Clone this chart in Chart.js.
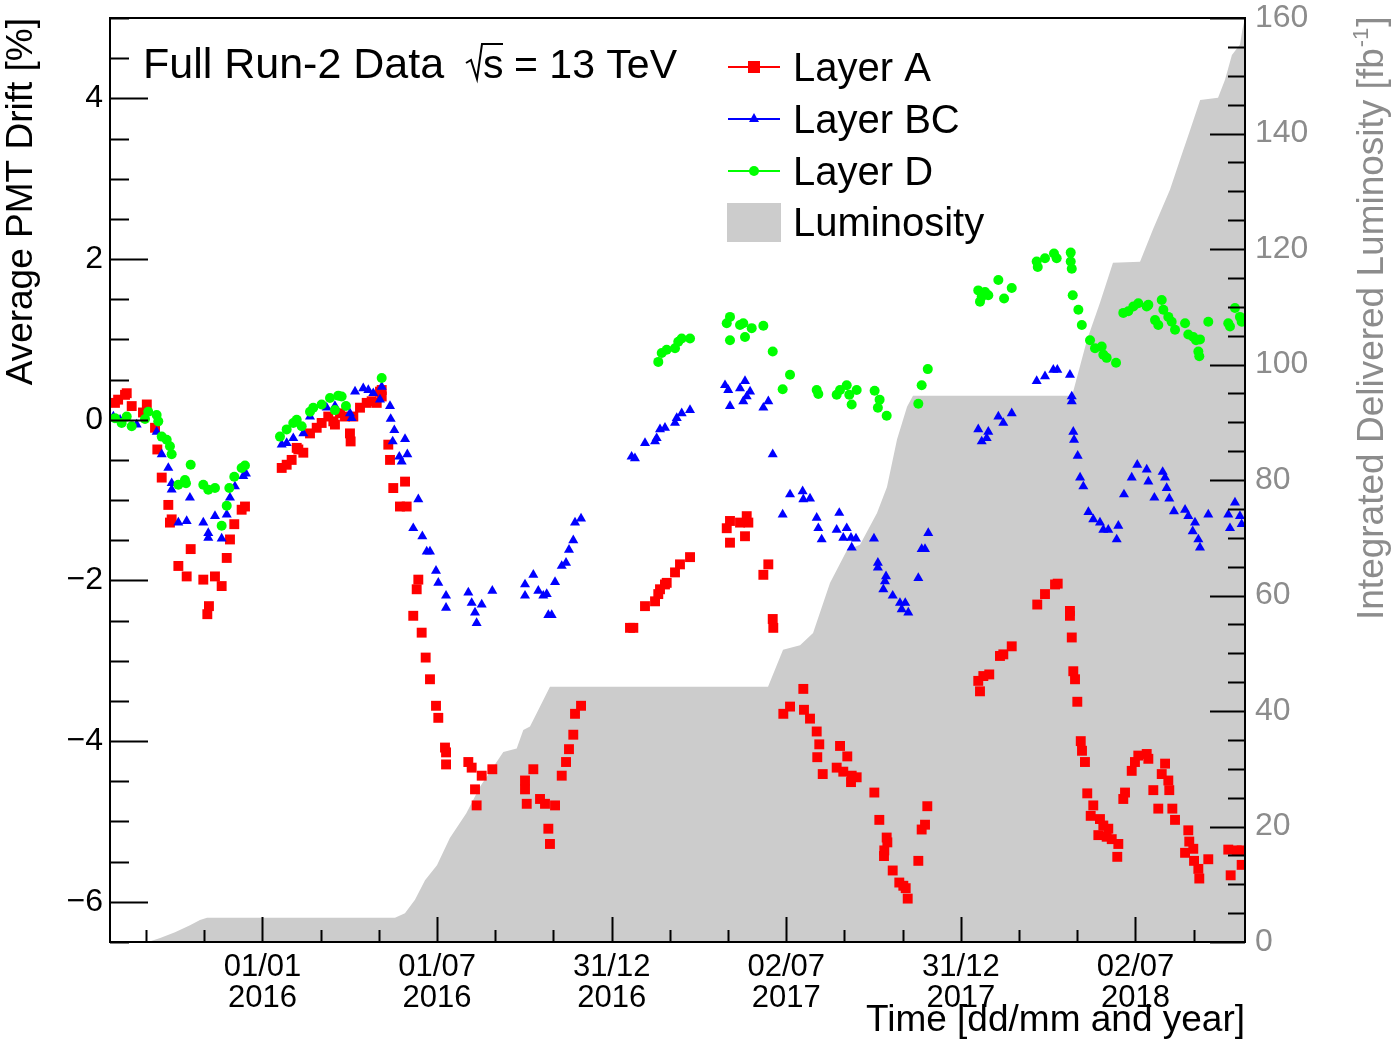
<!DOCTYPE html>
<html><head><meta charset="utf-8">
<script src="https://cdn.jsdelivr.net/npm/chart.js@4/dist/chart.umd.min.js"></script>
<style>html,body{margin:0;padding:0;background:#fff;overflow:hidden}</style>
</head><body>
<canvas id="c" width="1393" height="1043" style="width:1393px;height:1043px;display:block"></canvas>
<script>
// x values: days since 01/01/2016
const xTickDays = [0, 182.625, 365.25, 547.875, 730.5, 913.125];
const xTickLabels = [['01/01','2016'],['01/07','2016'],['31/12','2016'],['02/07','2017'],['31/12','2017'],['02/07','2018']];
const yTicks = [-6, -4, -2, 0, 2, 4];
const y2Ticks = [0, 20, 40, 60, 80, 100, 120, 140, 160];
const seriesNames = ['Layer A', 'Layer BC', 'Layer D', 'Luminosity'];

const layerA = [[-154.3,0.21],[-151,0.25],[-143.8,0.31],[-142,0.33],[-136.8,0.17],[-125,0.09],[-121,0.19],[-112.4,-0.10],[-110,-0.37],[-105.4,-0.72],[-98.5,-1.06],[-96.8,-1.28],[-95,-1.24],[-88,-1.82],[-79.3,-1.95],[-75.1,-1.61],[-61.9,-1.99],[-57.7,-2.42],[-56,-2.32],[-49.7,-1.95],[-42.7,-2.07],[-37.4,-1.72],[-34,-1.49],[-29.5,-1.30],[-21.8,-1.12],[-18.3,-1.08],
[20.1,-0.60],[25.3,-0.56],[30.5,-0.50],[35.8,-0.35],[37.5,-0.37],[42.7,-0.41],[49.7,-0.17],[56.7,-0.10],[61.9,-0.04],[68.8,0.04],[74.1,-0.02],[75.8,-0.06],[81.1,0.08],[86.3,0.04],[91.5,-0.17],[92.2,-0.27],[95,0.04],[102,0.15],[109,0.21],[114.2,0.23],[119.5,0.21],[122.9,0.35],[124.7,0.29],[124.7,0.37],
[131.6,-0.31],[133.4,-0.50],[136.8,-0.85],[143.8,-1.08],[149.1,-0.77],[150.8,-1.08],[157.7,-2.44],[161.3,-2.11],[163,-1.99],[166.5,-2.65],[170.7,-2.96],[175.2,-3.23],[181.5,-3.56],[183.9,-3.71],[190.9,-4.08],[192,-4.14],[192,-4.29],[215.3,-4.26],[218.8,-4.33],[222.3,-4.60],[224,-4.80],[229.3,-4.43],[240.4,-4.35],[274.6,-4.49],[274.6,-4.60],[276.4,-4.78],[283.3,-4.35],[290.3,-4.72],[295.5,-4.78],[299,-5.09],[300.7,-5.28],[306,-4.80],[313,-4.43],[317.5,-4.26],[320.6,-4.10],[325.1,-3.92],[326.9,-3.66],[333.2,-3.56],
[384.4,-2.59],[387.9,-2.59],[400.1,-2.32],[410.6,-2.26],[414,-2.17],[415.8,-2.11],[421,-2.05],[422.8,-2.03],[431.5,-1.90],[436.7,-1.80],[447.2,-1.71],[485.6,-1.35],[489,-1.26],[489,-1.53],[499.5,-1.28],[504.7,-1.45],[506.5,-1.20],[508.2,-1.28],[523.9,-1.93],[529.1,-1.80],[533.7,-2.48],[534.3,-2.59],
[544.8,-3.66],[551.8,-3.57],[565.7,-3.35],[566.4,-3.61],[572.7,-3.72],[579.7,-3.88],[580.3,-4.20],[582.4,-4.04],[586,-4.41],[600.6,-4.33],[604.1,-4.06],[607.5,-4.38],[611.7,-4.19],[615.6,-4.51],[616.3,-4.43],[621.5,-4.45],[640,-4.64],[645.2,-4.98],[650.1,-5.43],[650.4,-5.36],[652.9,-5.20],[653.6,-5.26],[659.2,-5.61],[666.1,-5.76],[670.3,-5.80],[672.8,-5.83],[674.9,-5.96],[686,-5.49],[689.5,-5.10],[693,-5.04],[695.4,-4.81],
[748.7,-3.25],[750.5,-3.38],[754,-3.19],[760.2,-3.17],[771.4,-2.94],[774.9,-2.92],[783.7,-2.82],[810.4,-2.30],[818.5,-2.17],[829,-2.05],[831.8,-2.04],[844.6,-2.38],[844.6,-2.44],[846.5,-2.71],[848.1,-3.13],[849.9,-3.23],[852.3,-3.51],[855.9,-4.00],[857.2,-4.12],[860.3,-4.26],[862.7,-4.65],[866.3,-4.93],[869,-4.80],[874.3,-5.17],[876,-4.97],[879.5,-5.05],[883,-5.19],[884.7,-5.09],[888.3,-5.22],[894.1,-5.44],[895.2,-5.28],[900.4,-4.72],[902.2,-4.64],[909.2,-4.37],[912.6,-4.26],[916.1,-4.18],[924.9,-4.16],[926.6,-4.22],[931.8,-4.61],[937,-4.84],[940.6,-4.41],[944.1,-4.28],[947.5,-4.49],[948.5,-4.61],[951.7,-4.84],[954.5,-4.98],[965,-5.39],[968.4,-5.11],[969.4,-5.25],[973.6,-5.34],[974.4,-5.49],[978.9,-5.59],[979.9,-5.71],[989.3,-5.47],[1010.2,-5.35],[1012.7,-5.67],[1019,-5.36],[1024.2,-5.36],[1024.2,-5.54]];

const layerBC = [[-156,0.04],[-149,0.0],[-131.6,-0.06],[-110.7,-0.15],[-105.4,-0.43],[-98.5,-0.60],[-95,-0.79],[-95,-0.87],[-88,-1.28],[-79.3,-1.26],[-75.9,-0.97],[-61.9,-1.28],[-56.7,-1.41],[-56.7,-1.47],[-49.7,-1.20],[-42.7,-1.48],[-37.4,-1.18],[-34,-0.97],[-28.8,-0.83],[-20.1,-0.70],[-17.3,-0.67],
[20.1,-0.31],[25.3,-0.29],[32.2,-0.23],[42.7,-0.17],[49.7,0.04],[67.2,0.15],[75.8,0.17],[91.5,0.08],[93.3,0.02],[96.8,0.35],[105.4,0.39],[110.7,0.37],[115.9,0.33],[122.9,0.25],[124.7,0.41],
[133.4,0.17],[134.1,0.01],[136.2,-0.27],[137.9,-0.13],[143.1,-0.46],[145.6,-0.52],[149.1,-0.24],[151.5,-0.43],[157.7,-1.35],[163,-0.99],[167.2,-1.45],[171.8,-1.64],[175.2,-1.64],[181.5,-1.88],[183.9,-2.03],[192,-2.19],[192,-2.34],[215.3,-2.15],[218.8,-2.28],[222.3,-2.40],[224,-2.53],[229.3,-2.30],[240.4,-2.13],[274.6,-2.05],[274.6,-2.19],[283.3,-1.93],[288.5,-2.13],[293.7,-2.19],[297.3,-2.17],[299,-2.43],[302.5,-2.43],[306,-2.02],[313,-1.82],[317.5,-1.78],[320.6,-1.62],[325.1,-1.50],[326.9,-1.28],[333.2,-1.23],
[386.1,-0.46],[389.6,-0.48],[400.1,-0.29],[410.6,-0.27],[412.3,-0.23],[415.8,-0.12],[421,-0.10],[431.5,-0.04],[433.3,0.02],[438.5,0.08],[447.2,0.12],[483.8,0.43],[487.2,0.37],[489,0.17],[499.5,0.39],[502.9,0.23],[504.7,0.48],[506.5,0.29],[510,0.35],[523.9,0.15],[529.1,0.23],[533.7,-0.43],
[544.1,-1.18],[551.8,-0.93],[565,-0.89],[565.7,-0.99],[572.7,-0.98],[579.7,-1.22],[581.4,-1.35],[584.9,-1.49],[600.6,-1.37],[603.3,-1.16],[607.5,-1.47],[611.1,-1.35],[615.6,-1.47],[616.3,-1.59],[620.8,-1.48],[639.6,-1.48],[643.7,-1.78],[643.7,-1.84],[649.4,-2.11],[651.1,-2.01],[652.2,-1.95],[659.2,-2.19],[666.8,-2.28],[668.6,-2.36],[672.3,-2.28],[675.5,-2.40],[686,-1.97],[689.5,-1.61],[693,-1.61],[696.4,-1.41],
[748.7,-0.12],[752.3,-0.27],[757.5,-0.23],[759.2,-0.15],[769.7,0.04],[774.9,-0.04],[783.7,0.08],[809.8,0.48],[818.5,0.54],[827.2,0.62],[831.4,0.62],[844.6,0.56],[846.5,0.29],[846.5,0.23],[848.1,-0.15],[848.9,-0.25],[852.7,-0.45],[855.2,-0.72],[858.6,-0.83],[863.9,-1.15],[869,-1.24],[876,-1.28],[879.5,-1.37],[884.7,-1.37],[893.5,-1.49],[895.2,-1.32],[901.1,-0.93],[909.2,-0.72],[915,-0.56],[924.9,-0.62],[926.6,-0.77],[932.9,-0.97],[941.6,-0.65],[944.1,-0.72],[945.8,-0.85],[948.5,-0.98],[953.4,-1.14],[965,-1.12],[968.4,-1.20],[973,-1.39],[975.4,-1.28],[978.9,-1.49],[980.6,-1.59],[989.3,-1.18],[1010.2,-1.18],[1012,-1.35],[1017.2,-1.03],[1022.4,-1.20],[1024.2,-1.30]];

const layerD = [[-154.3,0.02],[-147.3,-0.04],[-142,0.04],[-136.8,-0.08],[-122.9,0.01],[-119.5,0.10],[-110.7,0.06],[-109,-0.02],[-105.4,-0.21],[-100.2,-0.25],[-96.8,-0.33],[-95,-0.43],[-88,-0.81],[-81.1,-0.75],[-80,-0.79],[-75.1,-0.56],[-61.9,-0.81],[-56.7,-0.87],[-49.7,-0.85],[-42.7,-1.32],[-37.4,-1.07],[-34.7,-0.85],[-29.5,-0.71],[-21.8,-0.60],[-18.3,-0.57],
[18.3,-0.21],[25.3,-0.12],[32.2,-0.04],[35.8,0.0],[41,-0.08],[49.7,0.10],[53.1,0.15],[61.9,0.19],[70.6,0.27],[75.8,0.12],[79.3,0.30],[82.8,0.29],[87.3,0.17],[124.7,0.52],
[414,0.72],[417.6,0.83],[422.8,0.87],[431.5,0.89],[434.9,0.97],[438.5,1.01],[447.2,1.01],[485.6,1.20],[489,1.28],[489,0.99],[499.5,1.18],[502.9,1.20],[504.7,1.03],[511.7,1.14],[523.9,1.17],[533.7,0.85],[544.1,0.38],[551.8,0.56],[579.7,0.37],[581.4,0.32],[600.6,0.31],[604.1,0.37],[611.1,0.43],[613.8,0.31],[616.3,0.19],[621.5,0.37],[640.3,0.36],[643.7,0.15],[645.5,0.25],[652.9,0.05],[686,0.20],[689.5,0.43],[695.9,0.63],
[748.7,1.61],[750.5,1.47],[752.3,1.53],[755.8,1.59],[759.2,1.55],[769.7,1.74],[775.7,1.51],[783.7,1.64],[809.8,1.97],[810.9,1.90],[818.5,2.01],[827.9,2.07],[830.7,2.01],[845.4,2.08],[845.4,1.97],[846.5,1.88],[847.5,1.55],[853.4,1.37],[857,1.18],[865.6,0.99],[870.8,0.89],[877.8,0.91],[879.5,0.81],[883,0.77],[892.8,0.71],
[900.4,1.33],[905.6,1.35],[910.9,1.41],[916.1,1.45],[924.9,1.41],[926.6,1.43],[933.6,1.24],[937,1.18],[940.6,1.49],[942.3,1.37],[947.5,1.28],[951,1.22],[954.5,1.12],[965,1.20],[968.4,1.06],[973.6,1.03],[976.5,0.99],[978.9,0.85],[979.9,0.79],[980.6,1.00],[989.3,1.22],[1010.2,1.20],[1012,1.16],[1017.2,1.39],[1022.4,1.28],[1024.2,1.22]];

const luminosity = [[-159.5,0],[-119.8,0],[-107,0.7],[-91.5,1.7],[-75.8,2.9],[-65.4,3.8],[-58,4.2],[138.6,4.2],[149,5.0],[159.5,7.3],[170,10.7],[182.5,13.3],[196,18.0],[213.2,22.3],[227.5,26.9],[251.9,32.9],[265.9,33.5],[272.8,36.7],[279.8,37.3],[286.8,39.6],[300.7,44.2],[528.8,44.2],[544.5,50.6],[562.3,51.4],[575.9,53.5],[593.7,62.2],[611.5,67.9],[625,68.8],[642.8,74.3],[653.2,78.8],[663.7,87.0],[674.2,92.7],[680.4,94.6],[846.8,94.6],[862.5,104.3],[876,110.7],[889.6,117.6],[917.9,117.8],[931.5,123.4],[949.3,130.3],[959.8,135.5],[970.3,140.6],[980.8,145.8],[999.5,146.2],[1006.8,149.3],[1014,153.6],[1022.5,155.4],[1025,158.0],[1027.7,160]];

const FONT = "'Liberation Sans', Arial, Helvetica, sans-serif";
const RED = '#ff0000', BLUE = '#0000ff', GREEN = '#00ff00', LUMI = '#cccccc', GRAYTXT = '#8c8c8c';
const toXY = arr => arr.map(p => ({x: p[0], y: p[1]}));
const noPad = s => { s.paddingTop = 0; s.paddingBottom = 0; s.paddingLeft = 0; s.paddingRight = 0; };

const decorations = {
  id: 'decorations',
  afterDraw(chart) {
    const ctx = chart.ctx;
    const xs = chart.scales.x, ys = chart.scales.y, y2 = chart.scales.y2;
    const a = chart.chartArea;
    ctx.save();
    ctx.strokeStyle = '#000';
    ctx.lineWidth = 2;
    ctx.beginPath();
    for (let v = -6.5; v <= 5.0001; v += 0.5) {
      const y = Math.round(ys.getPixelForValue(v)) + 0.5;
      const len = (Math.abs(v % 2) < 1e-6) ? 38 : 19;
      ctx.moveTo(a.left, y); ctx.lineTo(a.left + len, y);
    }
    for (let v = 0; v <= 160; v += 5) {
      const y = Math.round(y2.getPixelForValue(v)) + 0.5;
      const len = (v % 20 === 0) ? 35 : 17;
      ctx.moveTo(a.right, y); ctx.lineTo(a.right - len, y);
    }
    const step = 60.875;
    for (let k = -3; k <= 17; k++) {
      const d = k * step;
      if (d < xs.min || d > xs.max) continue;
      const x = Math.round(xs.getPixelForValue(d)) + 0.5;
      const len = (k % 3 === 0) ? 25 : 12;
      ctx.moveTo(x, a.bottom); ctx.lineTo(x, a.bottom - len);
    }
    ctx.stroke();
    ctx.lineWidth = 2;
    ctx.strokeRect(a.left, a.top, a.right - a.left, a.bottom - a.top);

    // header text
    ctx.fillStyle = '#000';
    ctx.strokeStyle = '#000';
    ctx.textBaseline = 'alphabetic';
    ctx.textAlign = 'left';
    ctx.font = '43px ' + FONT;
    ctx.fillText('Full Run-2 Data', 143, 78);
    ctx.lineWidth = 2;
    ctx.beginPath();
    ctx.moveTo(466, 63); ctx.lineTo(471, 60); ctx.lineTo(477, 79); ctx.lineTo(482, 44); ctx.lineTo(503, 44);
    ctx.stroke();
    ctx.font = '41px ' + FONT;
    ctx.fillText('s', 483, 78);
    ctx.fillText('= 13 TeV', 514, 78);

    // legend
    ctx.font = '40px ' + FONT;
    const ly = [67, 119, 171];
    const cols = [RED, BLUE, GREEN];
    for (let i = 0; i < 3; i++) {
      ctx.strokeStyle = cols[i]; ctx.lineWidth = 2;
      ctx.beginPath(); ctx.moveTo(728, ly[i]); ctx.lineTo(780, ly[i]); ctx.stroke();
      ctx.fillStyle = cols[i];
      ctx.beginPath();
      if (i === 0) { ctx.rect(748, ly[i] - 6, 12, 12); }
      else if (i === 1) { ctx.moveTo(754, ly[i] - 6); ctx.lineTo(759, ly[i] + 3); ctx.lineTo(749, ly[i] + 3); ctx.closePath(); }
      else { ctx.arc(754, ly[i], 5, 0, Math.PI * 2); }
      ctx.fill();
      ctx.fillStyle = '#000';
      ctx.fillText(seriesNames[i], 793, ly[i] + 14);
    }
    ctx.fillStyle = LUMI;
    ctx.fillRect(727, 203, 54, 39);
    ctx.fillStyle = '#000';
    ctx.fillText(seriesNames[3], 793, 236);

    // right axis title
    ctx.save();
    ctx.translate(1373, 620);
    ctx.rotate(-Math.PI / 2);
    ctx.fillStyle = GRAYTXT;
    ctx.textBaseline = 'middle';
    ctx.font = '37px ' + FONT;
    const t1 = 'Integrated Delivered Luminosity [fb';
    ctx.fillText(t1, 0, 0);
    let w = ctx.measureText(t1).width;
    ctx.font = '22px ' + FONT;
    ctx.fillText('-1', w + 1, -11);
    w += ctx.measureText('-1').width + 2;
    ctx.font = '37px ' + FONT;
    ctx.fillText(']', w, 0);
    ctx.restore();
    ctx.restore();
  }
};

const ptCommon = {showLine: false, pointBorderWidth: 0, pointHoverRadius: 0};
const gridOff = {display: false, drawTicks: false};

new Chart(document.getElementById('c'), {
  type: 'scatter',
  data: {
    datasets: [
      Object.assign({label: seriesNames[2], data: toXY(layerD), pointStyle: 'circle', pointRadius: 5, pointBackgroundColor: GREEN, borderColor: GREEN, yAxisID: 'y', order: 1}, ptCommon),
      Object.assign({label: seriesNames[1], data: toXY(layerBC), pointStyle: 'triangle', pointRadius: 5.8, pointBackgroundColor: BLUE, borderColor: BLUE, yAxisID: 'y', order: 2}, ptCommon),
      Object.assign({label: seriesNames[0], data: toXY(layerA), pointStyle: 'rect', pointRadius: 7, pointBackgroundColor: RED, borderColor: RED, yAxisID: 'y', order: 3}, ptCommon),
      {label: seriesNames[3], data: toXY(luminosity), yAxisID: 'y2', showLine: true, fill: 'origin', backgroundColor: LUMI, borderColor: 'rgba(0,0,0,0)', borderWidth: 0, pointRadius: 0, tension: 0, order: 4}
    ]
  },
  options: {
    responsive: false,
    animation: false,
    devicePixelRatio: 1,
    layout: {padding: {top: 18, left: 0, right: 0, bottom: 0}},
    plugins: {legend: {display: false}, tooltip: {enabled: false}},
    events: [],
    scales: {
      x: {
        type: 'linear', position: 'bottom', min: -159.5, max: 1027.7,
        grid: gridOff, border: {display: false},
        afterBuildTicks: s => { s.ticks = xTickDays.map(v => ({value: v})); },
        afterFit: s => { s.height = 101; noPad(s); },
        ticks: {autoSkip: false, maxRotation: 0, minRotation: 0, padding: 10, color: '#000',
          font: {family: FONT, size: 31, lineHeight: 1.0},
          callback: (v) => { const i = xTickDays.findIndex(d => Math.abs(d - v) < 1); return i >= 0 ? xTickLabels[i] : ''; }},
        title: {display: true, text: 'Time [dd/mm and year]', align: 'end', color: '#000',
          font: {family: FONT, size: 37, lineHeight: 1.2}, padding: {top: 0, bottom: 0}}
      },
      y: {
        type: 'linear', position: 'left', min: -6.5, max: 5,
        grid: gridOff, border: {display: false},
        afterBuildTicks: s => { s.ticks = yTicks.map(v => ({value: v})); },
        afterFit: s => { s.width = 110; noPad(s); },
        ticks: {padding: 7, color: '#000', font: {family: FONT, size: 32, lineHeight: 1.0},
          callback: v => v < 0 ? '\u2212' + Math.abs(v) : String(v)},
        title: {display: true, text: 'Average PMT Drift [%]', align: 'end', color: '#000',
          font: {family: FONT, size: 37, lineHeight: 1.2}, padding: {top: 0, bottom: 0}}
      },
      y2: {
        type: 'linear', position: 'right', min: 0, max: 160,
        grid: gridOff, border: {display: false},
        afterBuildTicks: s => { s.ticks = y2Ticks.map(v => ({value: v})); },
        afterFit: s => { s.width = 148; noPad(s); },
        ticks: {padding: 10, color: GRAYTXT, font: {family: FONT, size: 32, lineHeight: 1.0}}
      }
    }
  },
  plugins: [decorations]
});
</script>
</body></html>
